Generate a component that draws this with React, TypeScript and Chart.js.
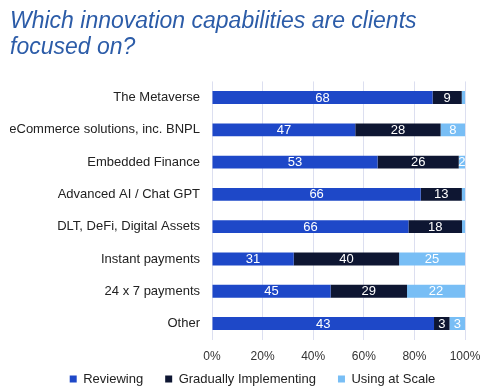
import React, { useEffect, useRef } from "react";
import { Chart, registerables } from "chart.js";

Chart.register(...registerables);

const categories = [
  "The Metaverse",
  "eCommerce solutions, inc. BNPL",
  "Embedded Finance",
  "Advanced AI / Chat GPT",
  "DLT, DeFi, Digital Assets",
  "Instant payments",
  "24 x 7 payments",
  "Other",
];
const reviewing = [68, 47, 53, 66, 66, 31, 45, 43];
const gradually = [9, 28, 26, 13, 18, 40, 29, 3];
const usingAtScale = [1, 8, 2, 1, 1, 25, 22, 3];
const tickLabels = ["0%", "20%", "40%", "60%", "80%", "100%"];

const seriesNames = ["Reviewing", "Gradually Implementing", "Using at Scale"];
const seriesColors = ["#1e48c8", "#0e1632", "#78bef5"];
const rawSeries = [reviewing, gradually, usingAtScale];

const totals = categories.map((_, i) => rawSeries.reduce((s, arr) => s + arr[i], 0));

const FONT = "'Liberation Sans', Arial, sans-serif";

const valueLabels = {
  id: "valueLabels",
  afterDatasetsDraw(chart: any) {
    const ctx = chart.ctx;
    ctx.save();
    ctx.fillStyle = "#ffffff";
    ctx.font = "13px " + FONT;
    ctx.textAlign = "center";
    ctx.textBaseline = "middle";
    chart.data.datasets.forEach((ds: any, di: number) => {
      const meta = chart.getDatasetMeta(di);
      meta.data.forEach((bar: any, i: number) => {
        const raw = ds.raw[i];
        if (raw < 2) return;
        const x1 = Math.min(bar.x, bar.base);
        const x2 = Math.max(bar.x, bar.base);
        ctx.fillText(String(raw), (x1 + x2) / 2, bar.y + 0.5);
      });
    });
    ctx.restore();
  },
};

// Reserve little vertical room for the legend, then place it below the x ticks
const legendPlace = {
  id: "legendPlace",
  beforeLayout(chart: any) {
    const lg = chart.legend;
    if (lg && !lg._patched) {
      const f = lg.fit.bind(lg);
      lg.fit = function () {
        f();
        this.height = 16;
      };
      lg._patched = true;
    }
  },
  afterLayout(chart: any) {
    const lg = chart.legend;
    if (!lg) return;
    const pad = lg.options.labels.padding;
    const center = 379;
    lg.top = center - pad - 6.5;
    lg.bottom = lg.top + 45;
    lg.left += 12;
    lg.right += 12;
  },
};

export default function App() {
  const ref = useRef<HTMLCanvasElement>(null);
  useEffect(() => {
    if (!ref.current) return;
    const chart = new Chart(ref.current, {
      type: "bar",
      data: {
        labels: categories,
        datasets: rawSeries.map((arr, k) => ({
          label: seriesNames[k],
          data: arr.map((v, i) => (v / totals[i]) * 100),
          raw: arr,
          backgroundColor: seriesColors[k],
          borderWidth: 0,
          barPercentage: 0.8,
          categoryPercentage: 0.5,
        })) as any,
      },
      options: {
        indexAxis: "y",
        animation: false,
        responsive: false,
        maintainAspectRatio: false,
        layout: { padding: { left: 10, right: 15, top: 8, bottom: 0 } },
        plugins: {
          title: {
            display: true,
            text: ["Which innovation capabilities are clients", "focused on?"],
            align: "start",
            color: "#2c5ca8",
            font: { family: FONT, size: 23, style: "italic", weight: "normal", lineHeight: 1.14 },
            padding: { top: 0, bottom: 21 },
          },
          legend: {
            display: true,
            position: "bottom",
            labels: {
              boxWidth: 7,
              boxHeight: 7,
              padding: 22,
              color: "#222",
              font: { family: FONT, size: 13 },
            },
          },
          tooltip: { enabled: false },
        },
        scales: {
          x: {
            stacked: true,
            min: 0,
            max: 100,
            ticks: {
              stepSize: 20,
              color: "#333",
              font: { family: FONT, size: 12 },
              padding: 10,
              callback: (_v: any, i: number) => tickLabels[i],
            },
            grid: { color: "#dcdff0", drawTicks: false },
            border: { display: false },
            afterFit: (scale: any) => {
              scale.paddingRight = 21;
            },
          },
          y: {
            stacked: true,
            ticks: {
              color: "#222",
              font: { family: FONT, size: 13 },
              padding: 12,
            },
            grid: { display: false, drawTicks: false },
            border: { display: false },
            afterFit: (scale: any) => {
              scale.width = 202;
            },
          },
        },
      },
      plugins: [valueLabels, legendPlace],
    } as any);
    return () => chart.destroy();
  }, []);
  return (
    <div style={{ position: "fixed", left: 0, top: 0, width: 486, height: 390, background: "#fff" }}>
      <canvas ref={ref} width={486} height={390} style={{ width: 486, height: 390 }} />
    </div>
  );
}
